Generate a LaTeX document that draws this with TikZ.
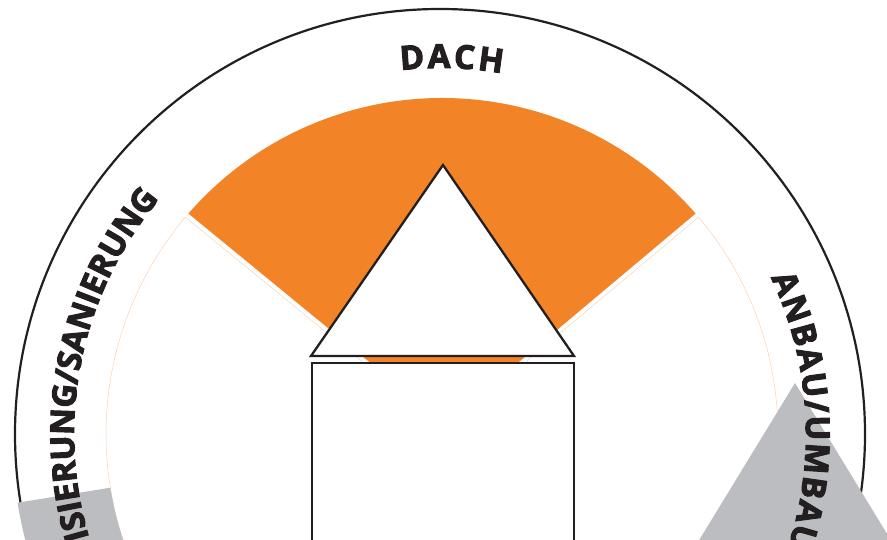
\documentclass[tikz,border=0pt]{standalone}
\usepackage{fontspec}
\newfontfamily\arcfam{Open Sans}[BoldFeatures={FakeBold=3}]
\newcommand\arcfont{\arcfam\bfseries\fontsize{33}{33}\selectfont}
\definecolor{orng}{RGB}{242,131,38}
\definecolor{gry}{RGB}{188,189,192}
\definecolor{ink}{RGB}{35,31,32}
\definecolor{faint}{RGB}{250,210,180}
\tikzset{
  letter/.style={anchor=base, inner sep=0pt, font=\arcfont, text=ink},
  outline/.style={ink, line width=2.3pt, fill=white},
  ring/.style={ink, line width=2.2pt},
  ghost/.style={faint, line width=0.5pt}
}
\newsavebox\arcbox
% measure letter advance widths outside the picture
\newcommand\measureletters[1]{%
  \foreach \ch in {#1}{%
    \sbox\arcbox{\arcfont\ch}%
    \expandafter\xdef\csname arcw\ch\endcsname{\the\wd\arcbox}%
  }%
}
% #1 name prefix, #2 centre, #3 baseline radius, #4 reference angle,
% #5 align (0 start, .5 centre, 1 end), #6 tracking, #7 letters
\newcommand\arcword[7]{%
  \gdef\arcsum{0}%
  \foreach \ch in {#7}{%
    \edef\arcw{\csname arcw\ch\endcsname}%
    \pgfmathsetmacro\arctmp{\arcsum+\arcw+#6}%
    \xdef\arcsum{\arctmp}%
  }%
  \pgfmathsetmacro\arctot{(\arcsum-#6)/#3*180/pi}%
  \pgfmathsetmacro\arcstart{#4+#5*\arctot}%
  \xdef\arccur{\arcstart}%
  \foreach \ch [count=\k] in {#7}{%
    \edef\arcw{\csname arcw\ch\endcsname}%
    \pgfmathsetmacro\arcmid{\arccur-(\arcw/2)/#3*180/pi}%
    \pgfmathsetmacro\arcrot{\arcmid-90}%
    \node[letter, rotate=\arcrot] (#1\k) at ([shift={(\arcmid:#3)}]#2) {\ch};%
    \pgfmathsetmacro\arcnext{\arccur-(\arcw+#6)/#3*180/pi}%
    \xdef\arccur{\arcnext}%
  }%
}
\begin{document}
\measureletters{D,A,C,H,N,B,U,/,M,S,I,E,R,G}%
\begin{tikzpicture}[x=1pt,y=1pt]
\useasboundingbox (0,0) rectangle (887,540);
\clip (0,0) rectangle (887,540);
\coordinate (C) at (442,106);
\coordinate (O) at (440,106);
\coordinate (A) at (445,116);
\coordinate (T) at (440,106);
% outer ring
\draw[ring] (O) circle[radius=425];
% neighbouring sectors (faint outlines)
\draw[ghost] (442.4,112.9) -- ([shift={(139.8:336)}]C) arc[start angle=139.8,end angle=250,radius=336] -- cycle;
\draw[ghost] (447.6,112.9) -- ([shift={(40.2:336)}]C) arc[start angle=40.2,end angle=-70,radius=336] -- cycle;
% highlighted sector
\fill[orng] (A) -- ([shift={(139:336)}]C) arc[start angle=139,end angle=41,radius=336] -- cycle;
% grey ring piece
\fill[gry] ([shift={(189.2:336)}]C) arc[start angle=189.2,end angle=260,radius=336]
  -- ([shift={(260:430)}]C) arc[start angle=260,end angle=189.2,radius=430] -- cycle;
% house
\draw[outline] (443,375) -- (311,184) -- (574,184) -- cycle;
\draw[outline] (312,177) rectangle (574,-30);
% grey roof
\fill[gry] (795,157) -- (687,-20) -- (903,-20) -- cycle;
% labels
\arcword{dach}{T}{366}{88.2}{0.5}{2.8}{D,A,C,H}
\arcword{anbau}{T}{366}{25.3}{0}{1.7}{A,N,B,A,U,/,U,M,B,A,U}
\arcword{san}{T}{366}{140}{1}{-0.2}{I,S,I,E,R,U,N,G,/,S,A,N,I,E,R,U,N,G}
\end{tikzpicture}
\end{document}
